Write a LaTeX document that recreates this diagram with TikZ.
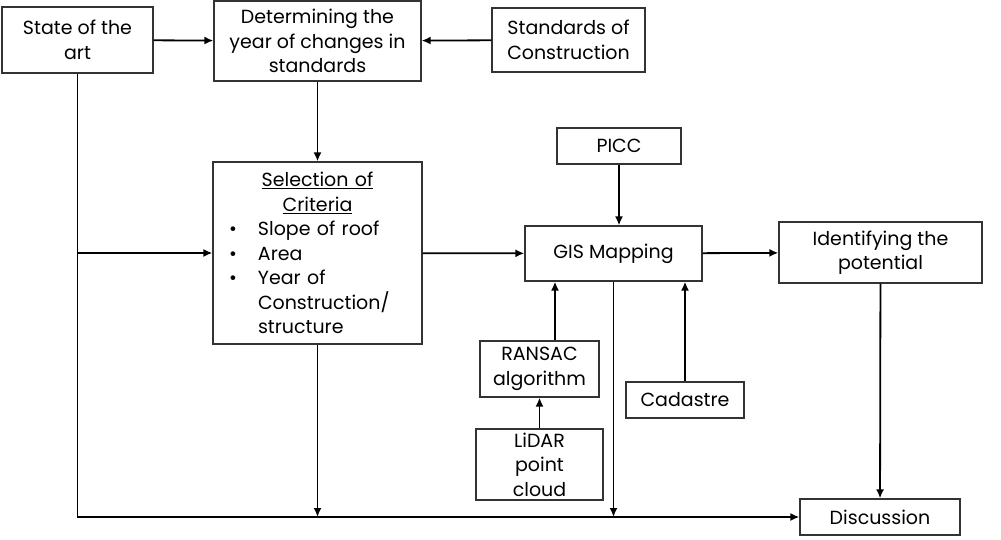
\documentclass[tikz,border=0pt]{standalone}
\usepackage{fontspec}
\setmainfont{Poppins}
\usepackage{tikz}
\usetikzlibrary{arrows.meta,positioning,calc}

\begin{document}
\begin{tikzpicture}[
  x=1pt, y=-1pt,
  every node/.style={font=\fontsize{19}{24.5}\selectfont},
  box/.style={rectangle, draw=black!80, line width=1.2pt, align=center, inner sep=0pt},
  flow/.style={draw, -{Latex[length=9pt,width=8pt]}, line width=1.8pt}
]
  \useasboundingbox (0,0) rectangle (1001,540);

  % boxes
  \node[box, minimum width=151, minimum height=66] (state) at (77.5,40) {State of the\\art};
  \node[box, minimum width=207, minimum height=80] (determ) at (317.5,41) {Determining the\\year of changes in\\standards};
  \node[box, minimum width=153, minimum height=64] (stand) at (568.5,40) {Standards of\\Construction};
  \node[box, minimum width=124, minimum height=36] (picc) at (619,146) {PICC};
  \node[box, minimum width=209, minimum height=182, text width=177pt, inner xsep=16pt, align=left] (crit) at (317.5,253)
    {\makebox[\linewidth][c]{\underline{Selection of}}\\
     \makebox[\linewidth][c]{\underline{Criteria}}\\
     \makebox[29pt][l]{\textbullet}Slope of roof\\
     \makebox[29pt][l]{\textbullet}Area\\
     \makebox[29pt][l]{\textbullet}Year of\\
     \hspace*{29pt}Construction/\\
     \hspace*{29pt}structure};
  \node[box, minimum width=177, minimum height=55] (gis) at (613.5,253.5) {GIS Mapping};
  \node[box, minimum width=203, minimum height=61] (ident) at (880.5,252.5) {Identifying the\\potential};
  \node[box, minimum width=119, minimum height=56] (ransac) at (539.5,369) {RANSAC\\algorithm};
  \node[box, minimum width=127, minimum height=71] (lidar) at (539.5,464.5) {LiDAR\\point\\cloud};
  \node[box, minimum width=118, minimum height=36] (cadas) at (685,400) {Cadastre};
  \node[box, minimum width=160, minimum height=36] (disc) at (880,517) {Discussion};

  % helper points
  \coordinate (corner) at (state.south |- disc.west);
  \coordinate (split) at (state.south |- crit.west);
  \coordinate (rfoot) at ($(ransac.north)+(15.5,0)$);

  % connectors
  \draw[flow] (state) -- (determ);
  \draw[flow] (stand) -- (determ);
  \draw[flow] (determ) -- (crit);
  \draw[flow] (state.south) -- (corner) -- (disc.west);
  \draw[flow] (split) -- (crit.west);
  \draw[flow] (crit.south) -- (crit.south |- corner);
  \draw[flow] (crit) -- (gis);
  \draw[flow] (picc) -- (picc |- gis.north);
  \draw[flow] (rfoot) -- (rfoot |- gis.south);
  \draw[flow] (lidar) -- (ransac);
  \draw[flow] (cadas) -- (cadas |- gis.south);
  \draw[flow] (gis.south) -- (gis.south |- corner);
  \draw[flow] (gis) -- (ident);
  \draw[flow] (ident) -- (disc);
\end{tikzpicture}
\end{document}
